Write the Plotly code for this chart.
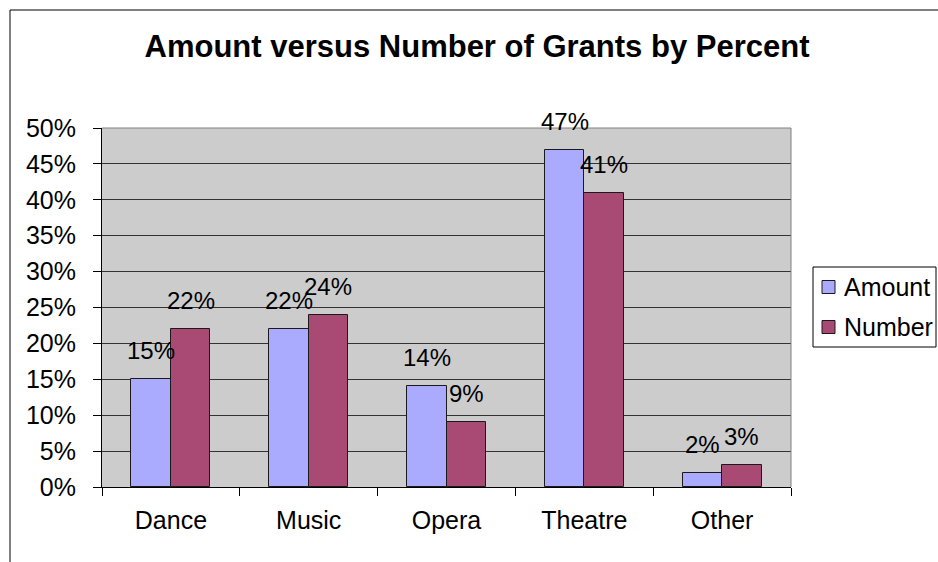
import plotly.graph_objects as go

# Grant share by discipline
categories = ["Dance", "Music", "Opera", "Theatre", "Other"]
amount_pct = [0.15, 0.22, 0.14, 0.47, 0.02]
number_pct = [0.22, 0.24, 0.09, 0.41, 0.03]
series_names = ["Amount", "Number"]

FONT = "Arial, Liberation Sans, sans-serif"
AMOUNT_COLOR = "#AAAAFF"
NUMBER_COLOR = "#A94A74"
EDGE = "#1a1a1a"
BAR_W = 0.287

W, H = 938, 562
L, R, T, B = 102, 147, 128, 75
PW, PH = W - L - R, H - T - B


def px_to_paper_x(px):
    return (px - L) / PW


def px_to_paper_y(py):
    return (H - B - py) / PH


fig = go.Figure()
fig.add_trace(go.Bar(
    name=series_names[0], x=categories, y=amount_pct,
    width=BAR_W, offset=-BAR_W,
    marker=dict(color=AMOUNT_COLOR, line=dict(color=EDGE, width=1)),
    showlegend=False,
))
fig.add_trace(go.Bar(
    name=series_names[1], x=categories, y=number_pct,
    width=BAR_W, offset=0,
    marker=dict(color=NUMBER_COLOR, line=dict(color=EDGE, width=1)),
    showlegend=False,
))

# value labels centred above each bar
annotations = []
for i, (a, n) in enumerate(zip(amount_pct, number_pct)):
    for xpos, val in ((i - BAR_W / 2, a), (i + BAR_W / 2, n)):
        annotations.append(dict(
            x=xpos, y=val, xref="x", yref="y",
            text=f"{round(val * 100)}%", showarrow=False,
            yanchor="bottom", xanchor="center", yshift=13,
            font=dict(family=FONT, size=24, color="black"),
        ))

shapes = [
    # outer chart frame
    dict(type="rect", xref="paper", yref="paper",
         x0=px_to_paper_x(10), x1=px_to_paper_x(960),
         y0=px_to_paper_y(580), y1=px_to_paper_y(10),
         line=dict(color="black", width=1), fillcolor="rgba(0,0,0,0)", layer="below"),
    # plot-area border, top and right
    dict(type="line", xref="paper", yref="paper", x0=0, x1=1, y0=1, y1=1,
         line=dict(color="#808080", width=1)),
    dict(type="line", xref="paper", yref="paper", x0=1, x1=1, y0=0, y1=1,
         line=dict(color="#808080", width=1)),
    # legend box
    dict(type="rect", xref="paper", yref="paper",
         x0=px_to_paper_x(813), x1=px_to_paper_x(936),
         y0=px_to_paper_y(347), y1=px_to_paper_y(267),
         line=dict(color="black", width=1), fillcolor="white"),
]

# legend entries: swatch + label
for name, color, cy in zip(series_names, [AMOUNT_COLOR, NUMBER_COLOR], [287, 327]):
    shapes.append(dict(
        type="rect", xref="paper", yref="paper",
        x0=px_to_paper_x(822), x1=px_to_paper_x(835),
        y0=px_to_paper_y(cy + 6.5), y1=px_to_paper_y(cy - 6.5),
        line=dict(color=EDGE, width=1), fillcolor=color,
    ))
    annotations.append(dict(
        x=px_to_paper_x(842), y=px_to_paper_y(cy), xref="paper", yref="paper",
        text=name, showarrow=False, xanchor="left", yanchor="middle",
        font=dict(family=FONT, size=25, color="black"),
    ))

fig.update_layout(
    width=W, height=H,
    margin=dict(l=L, r=R, t=T, b=B, autoexpand=False),
    paper_bgcolor="white",
    plot_bgcolor="#CCCCCC",
    barmode="group",
    bargap=0, bargroupgap=0,
    showlegend=False,
    title=dict(
        text="<b>Amount versus Number of Grants by Percent</b>",
        x=477 / W, xref="container", xanchor="center",
        y=1 - 46 / H, yref="container", yanchor="middle",
        font=dict(family=FONT, size=31, color="black"),
    ),
    font=dict(family=FONT, size=25, color="black"),
    xaxis=dict(
        type="category", range=[-0.5, 4.5],
        tickson="boundaries", ticks="outside", ticklen=8, tickcolor="black",
        showline=True, linecolor="black", linewidth=1,
        showgrid=False, zeroline=False,
        tickfont=dict(family=FONT, size=25, color="black"),
        ticklabelstandoff=11,
    ),
    yaxis=dict(
        range=[0, 0.5], dtick=0.05, tickformat=".0%",
        ticks="outside", ticklen=8, tickcolor="black",
        showline=True, linecolor="black", linewidth=1,
        showgrid=True, gridcolor="#333333", gridwidth=1,
        zeroline=False,
        tickfont=dict(family=FONT, size=25, color="black"),
        ticklabelstandoff=12,
    ),
    annotations=annotations,
    shapes=shapes,
)

fig.update_traces(cliponaxis=False)

fig.write_html("out.html")
